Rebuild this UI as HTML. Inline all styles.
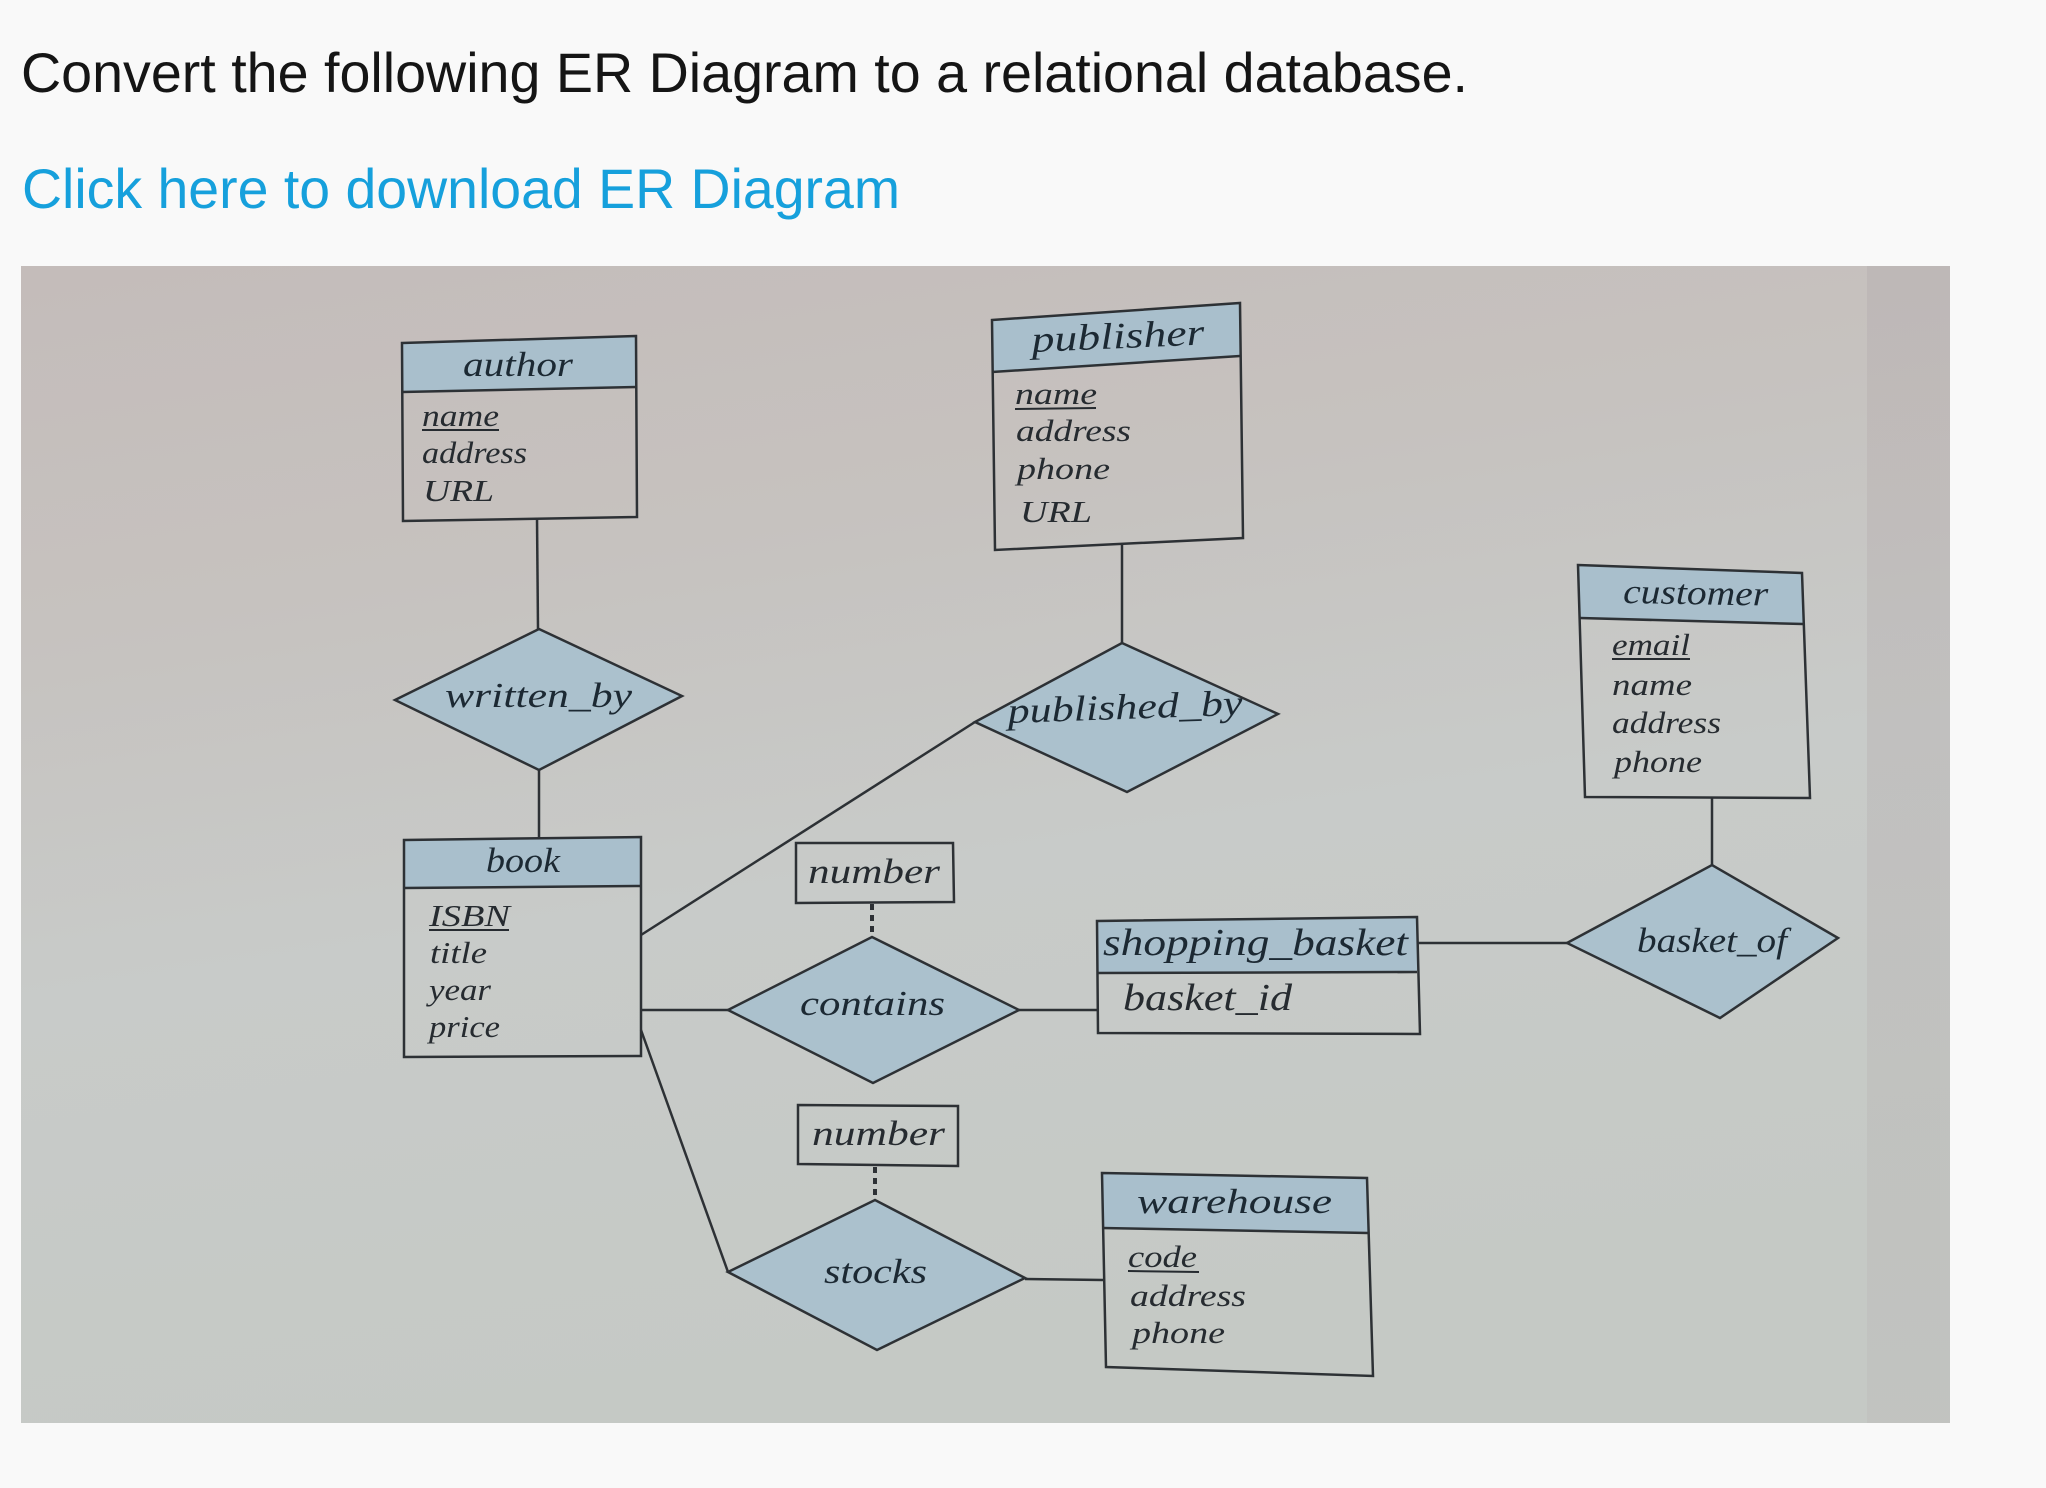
<!DOCTYPE html>
<html><head><meta charset="utf-8"><style>
html,body{margin:0;padding:0;background:#f9f9f9;width:2046px;height:1488px;overflow:hidden}
svg{display:block}
.t{font-family:"Liberation Sans",Arial,sans-serif}
.s{font-family:"Liberation Serif","DejaVu Serif",serif;font-style:italic;fill:#262b30}
.h{fill:#1c2933}
.ln{stroke:#2d3135;stroke-width:2.5;fill:none}
.hd{fill:#a9bfcc}
.dm{fill:#abc1cd;stroke:#2d3135;stroke-width:2.5}
</style></head><body>
<svg width="2046" height="1488" viewBox="0 0 2046 1488" xmlns="http://www.w3.org/2000/svg">
<defs>
<linearGradient id="bg" x1="0" y1="0" x2="0.25" y2="1">
<stop offset="0" stop-color="#c4bcba"/>
<stop offset="0.3" stop-color="#c6c2bf"/>
<stop offset="0.6" stop-color="#c8cbc9"/>
<stop offset="1" stop-color="#c5c9c5"/>
</linearGradient>
<linearGradient id="strip" x1="0" y1="0" x2="0" y2="1">
<stop offset="0" stop-color="#b5adae"/>
<stop offset="1" stop-color="#bdbcba"/>
</linearGradient>
</defs>
<rect x="0" y="0" width="2046" height="1488" fill="#f9f9f9"/>
<text class="t" x="21" y="92" font-size="56" fill="#151515" textLength="1447" lengthAdjust="spacingAndGlyphs">Convert the following ER Diagram to a relational database.</text>
<text class="t" x="22" y="208" font-size="56" fill="#16a0dc" textLength="878" lengthAdjust="spacingAndGlyphs">Click here to download ER Diagram</text>

<rect x="21" y="266" width="1929" height="1157" fill="url(#bg)"/>
<rect x="1867" y="266" width="83" height="1157" fill="url(#strip)" opacity="0.45"/>

<!-- connectors -->
<line class="ln" x1="537" y1="518" x2="538" y2="629"/>
<line class="ln" x1="539" y1="770" x2="539" y2="839"/>
<line class="ln" x1="1122" y1="543" x2="1122" y2="643"/>
<line class="ln" x1="975" y1="722" x2="641" y2="935"/>
<line class="ln" x1="641" y1="1010" x2="728" y2="1010"/>
<line class="ln" x1="1019" y1="1010" x2="1097" y2="1010"/>
<line class="ln" x1="641" y1="1030" x2="728" y2="1272"/>
<line class="ln" x1="1025" y1="1279" x2="1103" y2="1280"/>
<line class="ln" x1="1417" y1="943" x2="1567" y2="943"/>
<line class="ln" x1="1712" y1="798" x2="1712" y2="865"/>
<line x1="872" y1="904" x2="872" y2="937" stroke="#2d3135" stroke-width="4" stroke-dasharray="6,5"/>
<line x1="875" y1="1167" x2="875" y2="1200" stroke="#2d3135" stroke-width="4" stroke-dasharray="6,5"/>

<!-- diamonds -->
<polygon class="dm" points="395,700 539,629 682,696 539,770"/>
<polygon class="dm" points="975,722 1122,643 1278,714 1127,792"/>
<polygon class="dm" points="728,1010 872,937 1019,1010 873,1083"/>
<polygon class="dm" points="728,1272 875,1200 1025,1278 877,1350"/>
<polygon class="dm" points="1567,943 1712,865 1838,938 1720,1018"/>
<text class="s h" x="445" y="707" font-size="35" textLength="187" lengthAdjust="spacingAndGlyphs">written_by</text>
<text class="s h" x="1008" y="723" font-size="36" textLength="235" lengthAdjust="spacingAndGlyphs" transform="rotate(-2 1008 723)">published_by</text>
<text class="s h" x="800" y="1015" font-size="35" textLength="145" lengthAdjust="spacingAndGlyphs">contains</text>
<text class="s h" x="824" y="1283" font-size="35" textLength="103" lengthAdjust="spacingAndGlyphs">stocks</text>
<text class="s h" x="1637" y="952" font-size="35" textLength="150" lengthAdjust="spacingAndGlyphs">basket_of</text>

<!-- author -->
<polygon class="hd" points="402,343 636,336 636,387 402,392"/>
<polygon class="ln" points="402,343 636,336 637,517 403,521"/>
<line class="ln" x1="402" y1="392" x2="636" y2="387"/>
<text class="s h" x="463" y="376" font-size="35" textLength="110" lengthAdjust="spacingAndGlyphs">author</text>
<text class="s" x="422" y="426" font-size="31" textLength="77" lengthAdjust="spacingAndGlyphs">name</text>
<line x1="422" y1="430" x2="499" y2="430" stroke="#262b30" stroke-width="2"/>
<text class="s" x="422" y="463" font-size="31" textLength="105" lengthAdjust="spacingAndGlyphs">address</text>
<text class="s" x="423" y="501" font-size="31" textLength="71" lengthAdjust="spacingAndGlyphs">URL</text>

<!-- publisher -->
<polygon class="hd" points="992,320 1240,303 1240,356 992,372"/>
<polygon class="ln" points="992,320 1240,303 1243,538 995,550"/>
<line class="ln" x1="992" y1="372" x2="1240" y2="356"/>
<text class="s h" x="1032" y="352" font-size="37" textLength="173" lengthAdjust="spacingAndGlyphs" transform="rotate(-2.5 1032 352)">publisher</text>
<text class="s" x="1015" y="404" font-size="31" textLength="82" lengthAdjust="spacingAndGlyphs">name</text>
<line x1="1015" y1="409" x2="1096" y2="408" stroke="#262b30" stroke-width="2"/>
<text class="s" x="1016" y="441" font-size="31" textLength="115" lengthAdjust="spacingAndGlyphs">address</text>
<text class="s" x="1017" y="479" font-size="31" textLength="93" lengthAdjust="spacingAndGlyphs">phone</text>
<text class="s" x="1020" y="522" font-size="31" textLength="72" lengthAdjust="spacingAndGlyphs">URL</text>

<!-- customer -->
<polygon class="hd" points="1578,565 1802,573 1803,624 1580,618"/>
<polygon class="ln" points="1578,565 1802,573 1810,798 1585,797"/>
<line class="ln" x1="1580" y1="618" x2="1803" y2="624"/>
<text class="s h" x="1623" y="603" font-size="35" textLength="145" lengthAdjust="spacingAndGlyphs" transform="rotate(1 1623 603)">customer</text>
<text class="s" x="1612" y="655" font-size="31" textLength="78" lengthAdjust="spacingAndGlyphs">email</text>
<line x1="1612" y1="659" x2="1690" y2="659" stroke="#262b30" stroke-width="2"/>
<text class="s" x="1612" y="695" font-size="31" textLength="80" lengthAdjust="spacingAndGlyphs">name</text>
<text class="s" x="1612" y="733" font-size="31" textLength="109" lengthAdjust="spacingAndGlyphs">address</text>
<text class="s" x="1614" y="772" font-size="31" textLength="88" lengthAdjust="spacingAndGlyphs">phone</text>

<!-- book -->
<polygon class="hd" points="404,840 641,837 641,886 404,888"/>
<polygon class="ln" points="404,840 641,837 641,1056 404,1057"/>
<line class="ln" x1="404" y1="888" x2="641" y2="886"/>
<text class="s h" x="486" y="872" font-size="35" textLength="74" lengthAdjust="spacingAndGlyphs">book</text>
<text class="s" x="429" y="926" font-size="31" textLength="81" lengthAdjust="spacingAndGlyphs">ISBN</text>
<line x1="429" y1="930" x2="509" y2="930" stroke="#262b30" stroke-width="2"/>
<text class="s" x="430" y="963" font-size="31" textLength="57" lengthAdjust="spacingAndGlyphs">title</text>
<text class="s" x="429" y="1000" font-size="31" textLength="62" lengthAdjust="spacingAndGlyphs">year</text>
<text class="s" x="429" y="1037" font-size="31" textLength="71" lengthAdjust="spacingAndGlyphs">price</text>

<!-- number boxes -->
<polygon class="ln" points="796,843 953,843 954,902 796,903"/>
<text class="s" x="808" y="883" font-size="35" textLength="132" lengthAdjust="spacingAndGlyphs">number</text>
<polygon class="ln" points="798,1105 958,1106 958,1166 798,1164"/>
<text class="s" x="812" y="1145" font-size="35" textLength="133" lengthAdjust="spacingAndGlyphs">number</text>

<!-- shopping_basket -->
<polygon class="hd" points="1097,921 1417,917 1417,972 1097,973"/>
<polygon class="ln" points="1097,921 1417,917 1420,1034 1098,1033"/>
<line class="ln" x1="1097" y1="973" x2="1417" y2="972"/>
<text class="s h" x="1103" y="955" font-size="38" textLength="305" lengthAdjust="spacingAndGlyphs">shopping_basket</text>
<text class="s" x="1123" y="1010" font-size="38" textLength="169" lengthAdjust="spacingAndGlyphs">basket_id</text>

<!-- warehouse -->
<polygon class="hd" points="1102,1173 1367,1178 1368,1233 1102,1228"/>
<polygon class="ln" points="1102,1173 1367,1178 1373,1376 1106,1367"/>
<line class="ln" x1="1102" y1="1228" x2="1368" y2="1233"/>
<text class="s h" x="1137" y="1213" font-size="35" textLength="195" lengthAdjust="spacingAndGlyphs">warehouse</text>
<text class="s" x="1128" y="1267" font-size="31" textLength="69" lengthAdjust="spacingAndGlyphs">code</text>
<line x1="1128" y1="1271" x2="1199" y2="1272" stroke="#262b30" stroke-width="2"/>
<text class="s" x="1130" y="1306" font-size="31" textLength="116" lengthAdjust="spacingAndGlyphs">address</text>
<text class="s" x="1132" y="1343" font-size="31" textLength="93" lengthAdjust="spacingAndGlyphs">phone</text>
</svg>
</body></html>
